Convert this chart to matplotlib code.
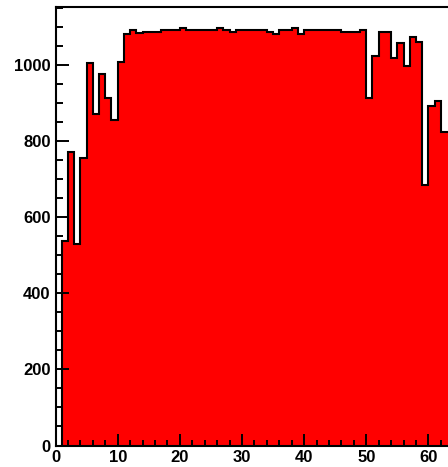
import numpy as np
import matplotlib as mpl
mpl.use("Agg")
import matplotlib.pyplot as plt
from matplotlib.ticker import MultipleLocator

# bin contents, one entry per unit-width bin starting at x = 1
bin_lo = 1
counts = [
    536, 770, 529, 755, 1006, 872, 976, 912, 855, 1007,
    1081, 1091, 1083, 1087, 1087, 1087, 1091, 1091, 1091, 1096,
    1092, 1092, 1092, 1092, 1092, 1097, 1092, 1087, 1092, 1092,
    1092, 1092, 1092, 1087, 1081, 1091, 1091, 1097, 1081, 1091,
    1091, 1091, 1091, 1091, 1091, 1087, 1087, 1087, 1092, 912,
    1023, 1085, 1085, 1018, 1058, 997, 1074, 1059, 684, 892,
    906, 824, 824,
]
edges = np.arange(bin_lo, bin_lo + len(counts) + 1)

plt.rcParams['font.family'] = ['Liberation Sans', 'DejaVu Sans']
plt.rcParams['font.weight'] = 'bold'

fig = plt.figure(figsize=(4.48, 4.67), dpi=100)
ax = fig.add_axes([0.124, 0.046, 0.876, 0.939])

ax.stairs(counts, edges, fill=True, facecolor='#ff0000', edgecolor='black',
          linewidth=1.5, baseline=0)

ymax = 1.05 * max(counts)
ax.set_xlim(0, 63.16)
ax.set_ylim(0, ymax)

ax.xaxis.set_major_locator(MultipleLocator(10))
ax.xaxis.set_minor_locator(MultipleLocator(2))
ax.yaxis.set_major_locator(MultipleLocator(200))
ax.yaxis.set_minor_locator(MultipleLocator(50))

ax.tick_params(which='both', direction='in', width=1.4, labelsize=12)
ax.tick_params(axis='y', which='major', length=9.5, pad=3.5)
ax.tick_params(axis='y', which='minor', length=5)
ax.tick_params(axis='x', which='major', length=8.5, pad=3.5)
ax.tick_params(axis='x', which='minor', length=4.5)
for lab in ax.get_xticklabels() + ax.get_yticklabels():
    lab.set_fontweight('bold')

for s in ['left', 'bottom', 'top']:
    ax.spines[s].set_linewidth(1.5)
ax.spines['right'].set_visible(False)

fig.savefig("out.png", dpi=100)
